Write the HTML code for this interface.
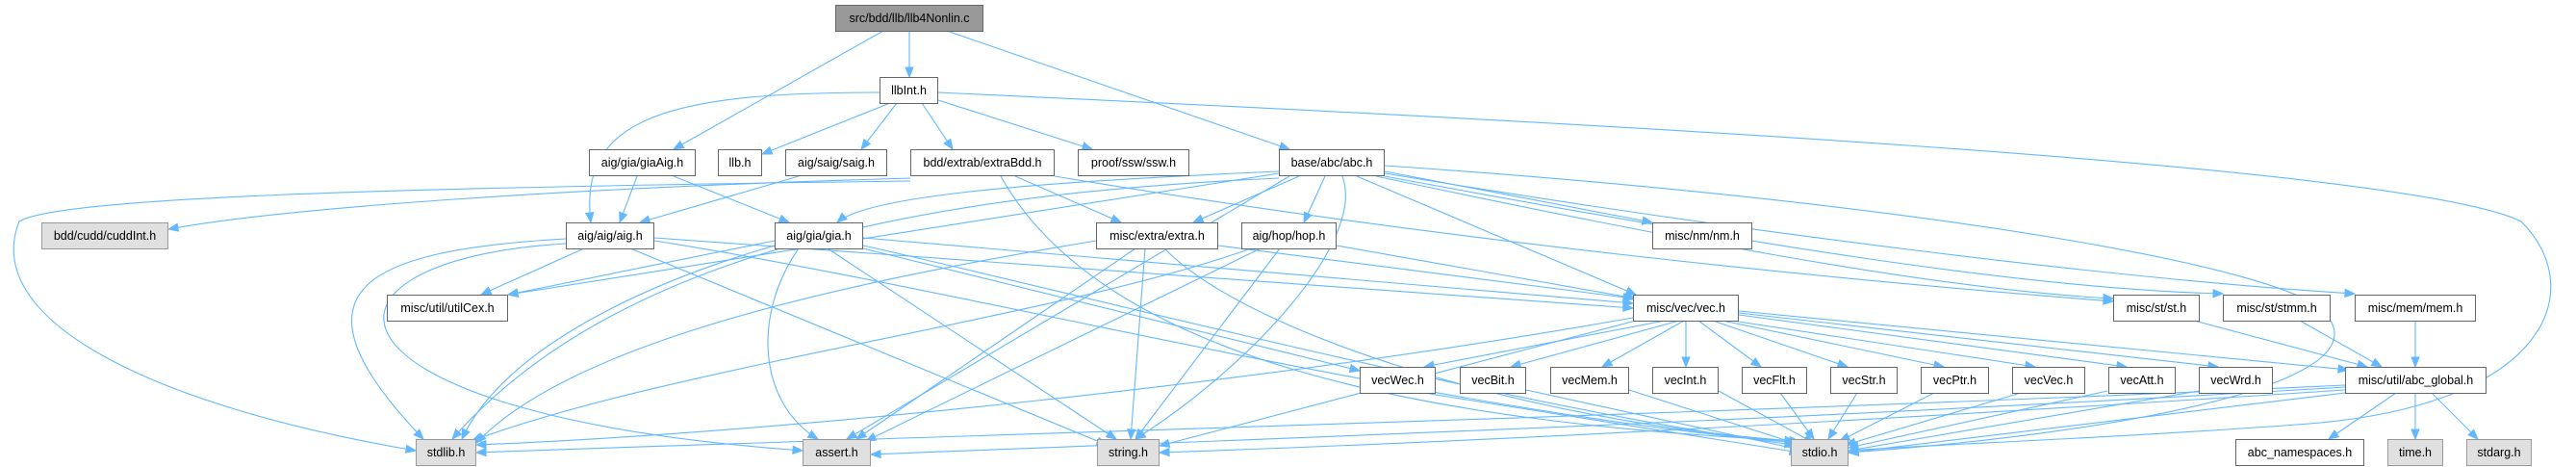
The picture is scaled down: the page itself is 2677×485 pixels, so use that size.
<!DOCTYPE html>
<html><head><meta charset="utf-8"><style>
html,body{margin:0;padding:0;background:#fff;}
body{width:2677px;height:485px;position:relative;overflow:hidden;font-family:"Liberation Sans",Arial,sans-serif;}
.n{position:absolute;box-sizing:border-box;border:1px solid #666;background:#fff;font-size:12.5px;color:#000;display:flex;align-items:center;justify-content:center;white-space:nowrap;height:28px;}
.g{background:#e0e0e0;border-color:#999;}
.s{background:#999;border-color:#666;}
svg{position:absolute;left:0;top:0;}
</style></head><body>
<svg id="sv" width="2677" height="485" viewBox="0 0 2677 485"></svg>
<div class="n s" style="left:868px;top:5px;width:154px;">src/bdd/llb/llb4Nonlin.c</div>
<div class="n" style="left:914px;top:80px;width:61px;">llbInt.h</div>
<div class="n" style="left:612px;top:155px;width:111px;">aig/gia/giaAig.h</div>
<div class="n" style="left:746px;top:155px;width:46px;">llb.h</div>
<div class="n" style="left:816px;top:155px;width:106px;">aig/saig/saig.h</div>
<div class="n" style="left:946px;top:155px;width:150px;">bdd/extrab/extraBdd.h</div>
<div class="n" style="left:1120px;top:155px;width:116px;">proof/ssw/ssw.h</div>
<div class="n" style="left:1329px;top:155px;width:110px;">base/abc/abc.h</div>
<div class="n g" style="left:43px;top:231px;width:132px;">bdd/cudd/cuddInt.h</div>
<div class="n" style="left:588px;top:231px;width:92px;">aig/aig/aig.h</div>
<div class="n" style="left:805px;top:231px;width:92px;">aig/gia/gia.h</div>
<div class="n" style="left:1139px;top:231px;width:127px;">misc/extra/extra.h</div>
<div class="n" style="left:1290px;top:231px;width:99px;">aig/hop/hop.h</div>
<div class="n" style="left:1717px;top:231px;width:104px;">misc/nm/nm.h</div>
<div class="n" style="left:402px;top:306px;width:126px;">misc/util/utilCex.h</div>
<div class="n" style="left:1697px;top:306px;width:110px;">misc/vec/vec.h</div>
<div class="n" style="left:2196px;top:306px;width:90px;">misc/st/st.h</div>
<div class="n" style="left:2310px;top:306px;width:112px;">misc/st/stmm.h</div>
<div class="n" style="left:2447px;top:306px;width:126px;">misc/mem/mem.h</div>
<div class="n" style="left:1413px;top:381px;width:79px;">vecWec.h</div>
<div class="n" style="left:1517px;top:381px;width:69px;">vecBit.h</div>
<div class="n" style="left:1611px;top:381px;width:82px;">vecMem.h</div>
<div class="n" style="left:1717px;top:381px;width:69px;">vecInt.h</div>
<div class="n" style="left:1810px;top:381px;width:68px;">vecFlt.h</div>
<div class="n" style="left:1902px;top:381px;width:70px;">vecStr.h</div>
<div class="n" style="left:1996px;top:381px;width:71px;">vecPtr.h</div>
<div class="n" style="left:2091px;top:381px;width:76px;">vecVec.h</div>
<div class="n" style="left:2191px;top:381px;width:70px;">vecAtt.h</div>
<div class="n" style="left:2285px;top:381px;width:77px;">vecWrd.h</div>
<div class="n" style="left:2437px;top:381px;width:147px;">misc/util/abc_global.h</div>
<div class="n g" style="left:432px;top:456px;width:63px;">stdlib.h</div>
<div class="n g" style="left:834px;top:456px;width:71px;">assert.h</div>
<div class="n g" style="left:1140px;top:456px;width:65px;">string.h</div>
<div class="n g" style="left:1861px;top:456px;width:60px;">stdio.h</div>
<div class="n" style="left:2323px;top:456px;width:134px;">abc_namespaces.h</div>
<div class="n g" style="left:2481px;top:456px;width:58px;">time.h</div>
<div class="n g" style="left:2563px;top:456px;width:68px;">stdarg.h</div>
<script>
var E=[
[918,32,700,155],[945,32,945,80],[984,32,1340,155],
[925,107,792,160],[932,107,895,155],[958,107,990,155],[975,104,1135,155],
[914,96,614,231,'C700,96 600,120 614,231'],
[975,96,1921,468,'C1600,125 2500,170 2620,230 C2690,300 2650,420 2400,440 C2200,455 2000,462 1921,468'],
[662,183,644,231],[700,183,820,231],[830,183,665,231],
[946,185,175,238,'C600,195 300,215 175,238'],
[1055,183,1165,231],[1040,183,1870,458,'C1150,380 1500,440 1870,458'],[1096,183,2196,313,'C1500,250 1900,290 2196,313'],
[946,188,432,468,'C400,195 60,205 20,230 C-20,330 150,420 432,468'],
[1329,178,870,231,'C1050,190 900,205 870,231'],
[1329,180,528,306],[1350,183,1240,231],[1377,183,1355,231],[1439,178,1717,231],
[1410,183,1700,306],[1430,183,2196,310,'C1700,240 2000,300 2196,310'],[1439,183,2310,305,'C1800,250 2100,300 2310,305'],[1439,180,2447,305,'C1800,240 2200,290 2447,305'],
[1395,183,1180,456,'C1420,250 1300,380 1180,456'],[1340,183,880,456],[1329,185,470,456,'C1000,200 650,250 470,456'],
[1439,172,1921,470,'C2000,210 2400,280 2420,330 C2470,400 2200,450 1921,470'],
[607,258,500,306],[588,248,440,456,'C380,260 290,300 440,456'],[588,253,834,468,'C300,270 310,430 834,468'],
[655,258,1150,462],[680,250,1870,460,'C1000,300 1500,430 1870,460'],[680,247,1697,320],
[805,250,528,306],[805,255,480,456,'C650,300 520,370 480,456'],[830,258,850,456,'C780,330 790,420 850,456'],
[860,258,1160,456],[897,255,1865,462,'C1100,300 1600,430 1865,462'],[897,247,1697,315],[897,258,1413,385],
[1139,250,495,460,'C900,290 600,350 495,460'],[1180,258,890,456],[1190,258,1175,456],[1210,258,1865,458,'C1300,350 1600,440 1865,458'],[1266,255,1697,310],
[1300,258,490,458,'C1100,330 700,380 490,458'],[1310,258,900,458],[1330,258,1180,456],[1389,255,1700,310],
[1730,333,1480,381],[1745,333,1570,381],[1750,333,1665,381],[1752,333,1752,381],[1765,333,1830,381],[1780,333,1920,381],[1790,333,2020,381],[1800,333,2115,381],[1807,327,2210,381],[1807,325,2305,381],[1807,323,2440,384],
[1697,330,495,462,'C1300,400 800,450 495,462'],[1700,333,1205,463],
[1480,408,1870,470],[1586,405,1875,468],[1693,405,1880,465],[1786,406,1885,460],[1850,408,1885,456],[1930,408,1900,456],[2010,408,1912,458],[2100,408,1918,462],[2190,406,1921,465],[2285,406,1921,468],
[2280,333,2460,381],[2390,333,2475,381],[2510,333,2510,381],
[2437,400,495,470,'C1800,430 900,455 495,470'],[2437,402,905,472,'C1800,440 1200,460 905,472'],[2437,405,1205,470,'C1900,440 1500,460 1205,470'],[2437,408,1921,470],
[2490,408,2420,456],[2510,408,2510,456],[2527,408,2575,456]
];
var s='';
E.forEach(function(e){
 var x1=e[0],y1=e[1],x2=e[2],y2=e[3],d,px,py;
 if(e[4]){d='M'+x1+','+y1+' '+e[4];var m=e[4].trim().split(/[ ,C]+/).filter(function(v){return v!=='';}).map(Number);px=m[m.length-4];py=m[m.length-3];}
 else{d='M'+x1+','+y1+' L'+x2+','+y2;px=x1;py=y1;}
 var dx=x2-px,dy=y2-py,L=Math.sqrt(dx*dx+dy*dy)||1;dx/=L;dy/=L;
 var bx=x2-dx*10,by=y2-dy*10;
 s+='<path d="'+d+'" fill="none" stroke="#63b8ff" stroke-width="1.1"/>';
 s+='<polygon points="'+x2+','+y2+' '+(bx-dy*4)+','+(by+dx*4)+' '+(bx+dy*4)+','+(by-dx*4)+'" fill="#63b8ff" stroke="#63b8ff"/>';
});
document.getElementById('sv').innerHTML=s;
</script>
</body></html>
